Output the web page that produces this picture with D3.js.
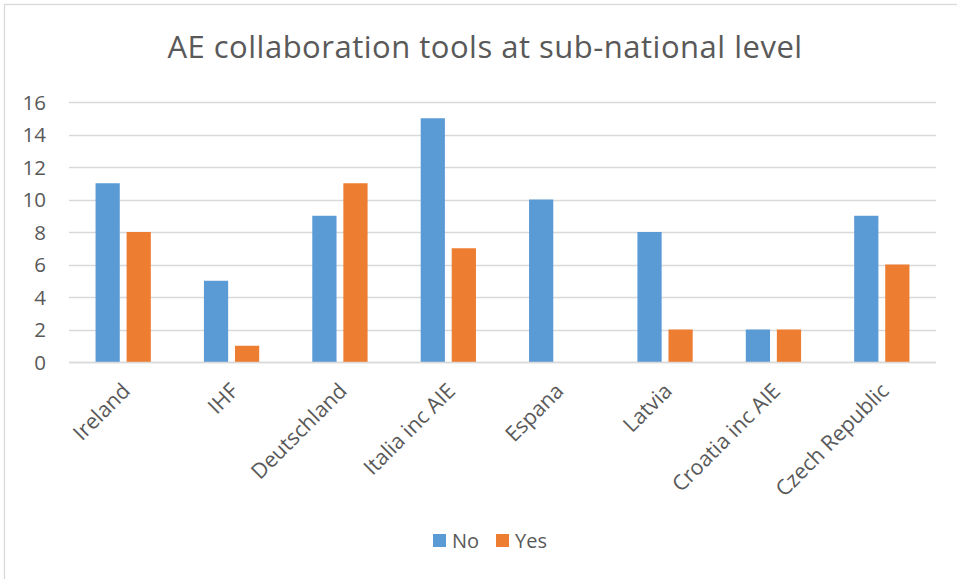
<!DOCTYPE html>
<html>
<head>
<meta charset="utf-8">
<script src="https://cdn.jsdelivr.net/npm/d3@7"></script>
<style>
  html, body { margin: 0; padding: 0; background: #fff; }
  svg { display: block; }
  text { font-family: "Open Sans", "Noto Sans", sans-serif; fill: #595959; }
</style>
</head>
<body>
<svg id="chart" width="957" height="579"></svg>
<script>
const categories = ["Ireland", "IHF", "Deutschland", "Italia inc AIE", "Espana", "Latvia", "Croatia inc AIE", "Czech Republic"];
const seriesNames = ["No", "Yes"];
const noValues = [11, 5, 9, 15, 10, 8, 2, 9];
const yesValues = [8, 1, 11, 7, 0, 2, 2, 6];
const yTicks = [0, 2, 4, 6, 8, 10, 12, 14, 16];
const titleText = "AE collaboration tools at sub-national level";
const colors = ["#5b9bd5", "#ed7d31"];

const svg = d3.select("#chart");
const W = 957, H = 579;

// chart border
svg.append("rect")
  .attr("x", 4.5).attr("y", 4.5)
  .attr("width", W + 10).attr("height", H + 10)
  .attr("fill", "#fff").attr("stroke", "#d9d9d9").attr("stroke-width", 1.3);

const plot = { left: 69, right: 936, top: 102, bottom: 362 };

const x = d3.scaleBand().domain(categories).range([plot.left, plot.right]).paddingInner(0).paddingOuter(0);
const y = d3.scaleLinear().domain([0, 16]).range([plot.bottom, plot.top]);
const groupWidth = x.bandwidth() * 0.51;
const xs = d3.scaleBand().domain(seriesNames).range([0, groupWidth]).paddingInner(0.22);

// gridlines
svg.append("g").selectAll("line").data(yTicks).join("line")
  .attr("x1", plot.left).attr("x2", plot.right)
  .attr("y1", d => Math.round(y(d)) + 0.5).attr("y2", d => Math.round(y(d)) + 0.5)
  .attr("stroke", "#d9d9d9").attr("stroke-width", 1.3);

// y axis labels
const yAxis = d3.axisLeft(y).tickValues(yTicks).tickSize(0).tickPadding(0);
const gy = svg.append("g").attr("transform", `translate(46,0)`).call(yAxis);
gy.select(".domain").remove();
gy.selectAll("text").style("font-size", "20.5px").style("font-family", "'Open Sans', sans-serif")
  .attr("fill", "#595959").attr("dy", "0.35em");

// bars
const data = categories.map((c, i) => ({ cat: c, vals: [noValues[i], yesValues[i]] }));
const groups = svg.append("g").selectAll("g").data(data).join("g")
  .attr("transform", d => `translate(${x(d.cat) + (x.bandwidth() - groupWidth) / 2},0)`);
groups.selectAll("rect").data(d => d.vals.map((v, j) => ({ v, s: seriesNames[j], j }))).join("rect")
  .attr("x", d => xs(d.s))
  .attr("width", xs.bandwidth())
  .attr("y", d => y(d.v))
  .attr("height", d => y(0) - y(d.v))
  .attr("fill", d => colors[d.j]);

// x axis line (bottom gridline on top)
svg.append("line")
  .attr("x1", plot.left).attr("x2", plot.right)
  .attr("y1", Math.round(y(0)) + 0.5).attr("y2", Math.round(y(0)) + 0.5)
  .attr("stroke", "#d9d9d9").attr("stroke-width", 1.3);

// x labels
const xAxis = d3.axisBottom(x).tickSize(0).tickPadding(0);
const gx = svg.append("g").attr("transform", `translate(0,${plot.bottom})`).call(xAxis);
gx.select(".domain").remove();
gx.selectAll("text")
  .style("font-size", "21.3px").style("font-family", "'Open Sans', sans-serif")
  .attr("fill", "#595959")
  .attr("text-anchor", "end")
  .attr("y", null)
  .attr("transform", "translate(3,25) rotate(-45)")
  .attr("dy", "0.35em");

// title
svg.append("text")
  .attr("x", 485).attr("y", 58)
  .attr("text-anchor", "middle")
  .style("font-size", "31px")
  .style("letter-spacing", "0.5px")
  .text(titleText);

// legend
const legend = svg.append("g").attr("transform", "translate(433,534)");
const items = legend.selectAll("g").data(seriesNames).join("g")
  .attr("transform", (d, i) => `translate(${i * 63},0)`);
items.append("rect").attr("width", 13).attr("height", 13).attr("fill", (d, i) => colors[i]);
items.append("text").attr("x", 19).attr("y", 7).attr("dy", "0.35em")
  .style("font-size", "20px").text(d => d);
</script>
</body>
</html>
